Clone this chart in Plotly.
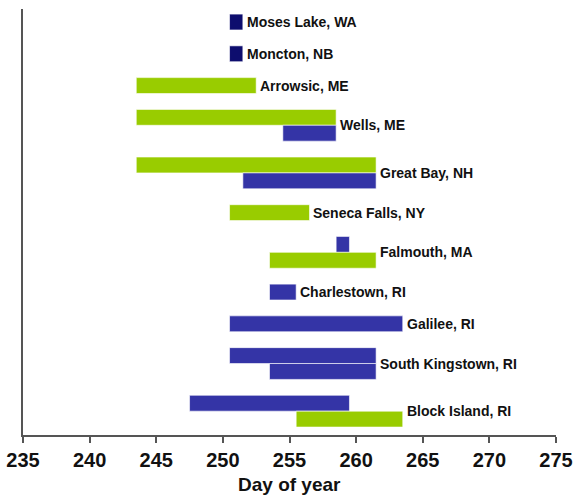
import plotly.graph_objects as go

# Data: each location with its bars (start day, end day, series)
locations = ["Moses Lake, WA", "Moncton, NB", "Arrowsic, ME", "Wells, ME", "Great Bay, NH",
             "Seneca Falls, NY", "Falmouth, MA", "Charlestown, RI", "Galilee, RI",
             "South Kingstown, RI", "Block Island, RI"]
bar_starts = [[250.5], [250.5], [243.5], [243.5, 254.5], [243.5, 251.5],
              [250.5], [258.5, 253.5], [253.5], [250.5], [250.5, 253.5], [247.5, 255.5]]
bar_ends = [[251.5], [251.5], [252.5], [258.5, 258.5], [261.5, 261.5],
            [256.5], [259.5, 261.5], [255.5], [263.5], [261.5, 261.5], [259.5, 263.5]]
bar_series = [["navy"], ["navy"], ["green"], ["green", "blue"], ["green", "blue"],
              ["green"], ["blue", "green"], ["blue"], ["blue"], ["blue", "blue"], ["blue", "green"]]
x_ticks = [235, 240, 245, 250, 255, 260, 265, 270, 275]

colors = {"navy": "#0d0d6e", "blue": "#3434a6", "green": "#99cc00"}

fig = go.Figure()
slot = 0
label_y, label_x = [], []
for loc, starts, ends, sers in zip(locations, bar_starts, bar_ends, bar_series):
    ys = []
    for s, e, c in zip(starts, ends, sers):
        fig.add_trace(go.Bar(
            x=[e - s], base=[s], y=[slot], orientation="h", width=1,
            marker=dict(color=colors[c], line=dict(color="white", width=0.6)),
            showlegend=False, hoverinfo="skip"))
        ys.append(slot)
        slot += 1
    label_y.append(sum(ys) / len(ys))
    label_x.append(max(ends))
    slot += 1  # gap

for loc, lx, ly in zip(locations, label_x, label_y):
    fig.add_annotation(x=lx, y=ly, text=loc, showarrow=False, xanchor="left",
                       yanchor="middle", xshift=2,
                       font=dict(family="Arial", size=14, color="#111111", weight="bold"))

fig.add_annotation(x=0.5, y=-0.117, xref="paper", yref="paper", text="Day of year",
                   showarrow=False, xanchor="center", yanchor="middle",
                   font=dict(family="Arial", size=19, color="#111111", weight="bold"))

fig.update_layout(
    width=574, height=498,
    margin=dict(l=23, r=18, t=9, b=63, autoexpand=False),
    plot_bgcolor="white", paper_bgcolor="white",
    barmode="overlay",
    xaxis=dict(range=[235, 275], tickvals=x_ticks, showgrid=False, zeroline=False,
               automargin=False,
               showline=True, linecolor="#555555", linewidth=2,
               ticks="outside", ticklen=6, tickcolor="#555555", tickwidth=2,
               tickfont=dict(family="Arial", size=20, color="#111111", weight="bold")),
    yaxis=dict(range=[slot - 1 + 0.0, -0.82], showticklabels=False, showgrid=False,
               automargin=False,
               zeroline=False, showline=True, linecolor="#555555", linewidth=2, ticks=""),
)

fig.write_html("out.html", config={"displayModeBar": False},
               post_script="document.body.style.margin='0';document.body.style.overflow='hidden';")
